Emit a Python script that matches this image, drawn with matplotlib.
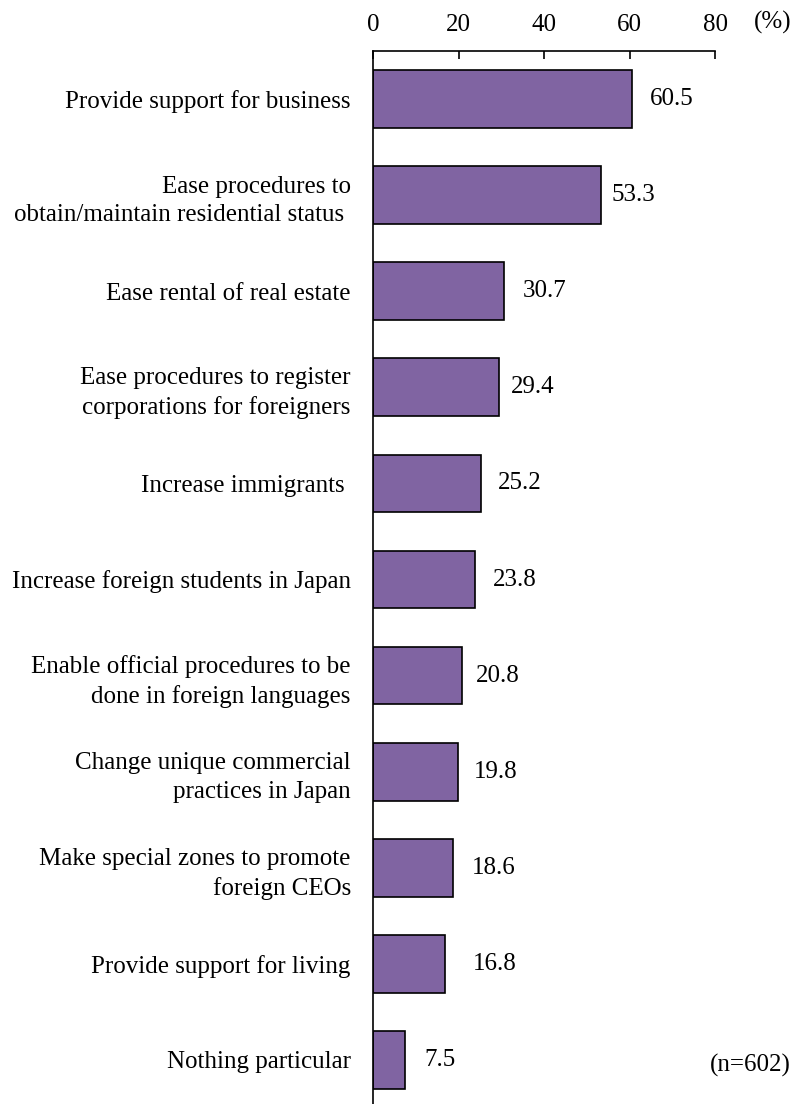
import matplotlib
matplotlib.use("Agg")
import matplotlib.pyplot as plt

categories = [
    "Provide support for business",
    "Ease procedures to\nobtain/maintain residential status ",
    "Ease rental of real estate",
    "Ease procedures to register\ncorporations for foreigners",
    "Increase immigrants ",
    "Increase foreign students in Japan",
    "Enable official procedures to be\ndone in foreign languages",
    "Change unique commercial\npractices in Japan",
    "Make special zones to promote\nforeign CEOs",
    "Provide support for living",
    "Nothing particular",
]
values = [60.5, 53.3, 30.7, 29.4, 25.2, 23.8, 20.8, 19.8, 18.6, 16.8, 7.5]
xticks = [0, 20, 40, 60, 80]

# small horizontal nudges (points) for the value labels
label_gap = [13, 8, 13, 9, 12, 13, 10, 12, 14, 20, 14]

plt.rcParams["font.family"] = ["Liberation Serif", "DejaVu Serif"]
FS = 18

W, H = 798, 1104
fig = plt.figure(figsize=(W / 100, H / 100), dpi=100)
ax_left, ax_right = 373, 715
ax_top, ax_bot = 51, 1108
ax = fig.add_axes([ax_left / W, 1 - ax_bot / H, (ax_right - ax_left) / W, (ax_bot - ax_top) / H])

y = list(range(len(categories)))
ax.barh(y, values, height=0.6, color="#8064A2", edgecolor="black", linewidth=1.2)
ax.set_ylim(len(categories) - 0.5, -0.5)
ax.set_xlim(0, 80)

for yi, v, g in zip(y, values, label_gap):
    ax.annotate(f"{v:.1f}", xy=(v, yi), xytext=(g, 0), textcoords="offset points",
                ha="left", va="center", fontsize=FS)

ax.set_yticks(y)
ax.set_yticklabels(categories, fontsize=FS, linespacing=1.38)
ax.tick_params(axis="y", length=0, pad=16)

ax.xaxis.tick_top()
ax.set_xticks(xticks)
ax.set_xticklabels([str(t) for t in xticks], fontsize=FS)
ax.tick_params(axis="x", direction="in", length=6, width=1.2, pad=11)

for s in ("right", "bottom"):
    ax.spines[s].set_visible(False)
for s in ("top", "left"):
    ax.spines[s].set_linewidth(1.2)

fig.text(754 / W, 1 - 22 / H, "(%)", fontsize=FS, ha="left", va="center")
fig.text(791 / W, 1 - 1065 / H, "(n=602)", fontsize=FS, ha="right", va="center")

fig.savefig("out.png", dpi=100)
